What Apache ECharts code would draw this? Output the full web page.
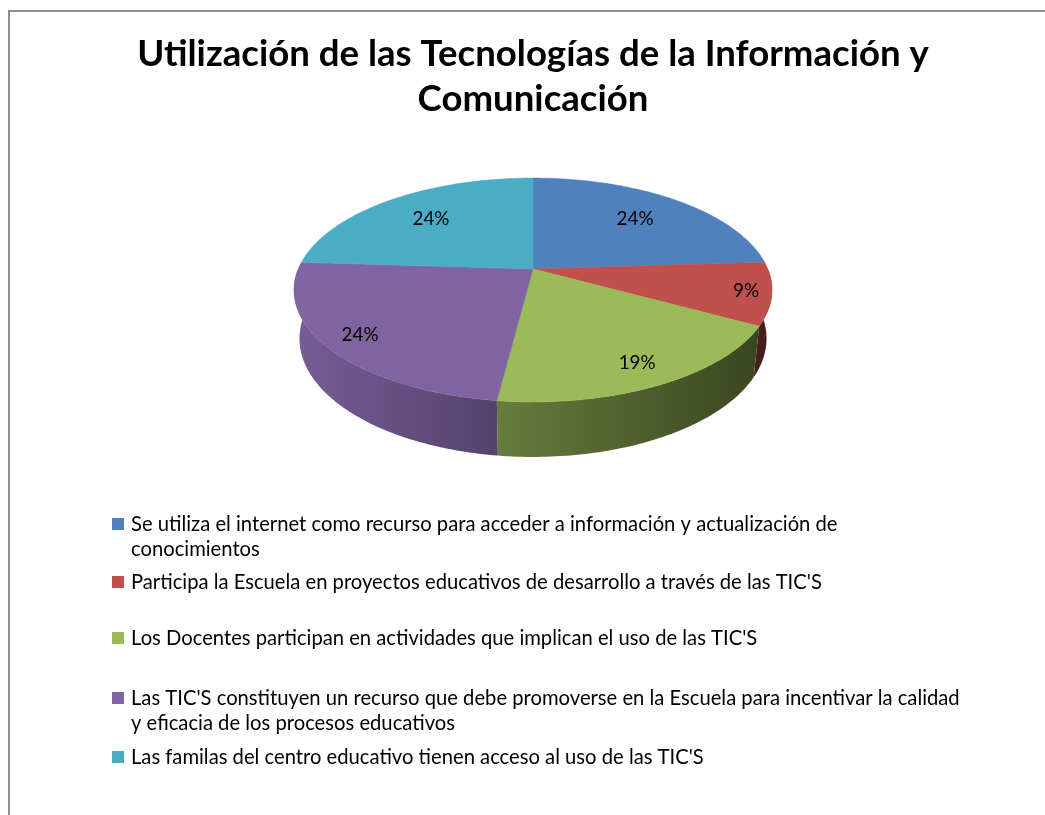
<!DOCTYPE html>
<html>
<head>
<meta charset="utf-8">
<script src="https://cdn.jsdelivr.net/npm/echarts@6/dist/echarts.min.js"></script>
<style>
html,body{margin:0;padding:0;background:#fff;}
#chart{width:1045px;height:815px;}
</style>
</head>
<body>
<div id="chart"></div>
<script>
// ---------------- data ----------------
const titleText = 'Utilización de las Tecnologías de la Información y\nComunicación';
const categories = [
  'Se utiliza el internet como recurso para acceder a información y actualización de conocimientos',
  "Participa la Escuela en proyectos educativos de desarrollo a través de las TIC'S",
  "Los Docentes participan en actividades que implican el uso de las TIC'S",
  "Las TIC'S constituyen un recurso que debe promoverse en la Escuela para incentivar la calidad y eficacia de los procesos educativos",
  "Las familas del centro educativo tienen acceso al uso de las TIC'S"
];
const legendLines = [
  ['Se utiliza el internet como recurso para acceder a información y actualización de', 'conocimientos'],
  ["Participa la Escuela en proyectos educativos de desarrollo a través de las TIC'S"],
  ["Los Docentes participan en actividades que implican el uso de las TIC'S"],
  ["Las TIC'S constituyen un recurso que debe promoverse en la Escuela para incentivar la calidad", 'y eficacia de los procesos educativos'],
  ["Las familas del centro educativo tienen acceso al uso de las TIC'S"]
];
const values = [24, 9, 19, 24, 24];
const colors = ['#4f81bd', '#c0504d', '#9bbb59', '#8064a2', '#4bacc6'];

// ---------------- layout / style constants ----------------
const FONT = 'Lato';
const CX = 533, CY = 269, K = 234.8;          // pie centre & radius on screen
const SA = 0.46, CA = 0.888, DIST = 4.74;      // view tilt & perspective
const THICK = 0.235;                           // pie thickness (relative to radius)
const labelRadius = [0.695, 0.896, 0.84, 0.858, 0.695];
const legendCenters = [524, 582, 638, 698, 757];

function fitSize(text, weight, target) {
  const ctx = document.createElement('canvas').getContext('2d');
  ctx.font = weight + ' 100px ' + FONT;
  return 100 * target / ctx.measureText(text).width;
}
const titleSize = fitSize('Utilización de las Tecnologías de la Información y', 'bold', 792);
const legendSize = fitSize(legendLines[0][0], 'normal', 707);
const labelSize = fitSize('24%', 'normal', 37);

function proj(X, Y, Z) {
  const depth = Y * SA - Z * CA;
  const v = Y * CA + Z * SA;
  const sc = DIST / (DIST - depth);
  return [CX + K * X * sc, CY - K * v * sc];
}
function shade(hex, f) {
  const n = parseInt(hex.slice(1), 16);
  const r = Math.round(((n >> 16) & 255) * f), g = Math.round(((n >> 8) & 255) * f), b = Math.round((n & 255) * f);
  return 'rgb(' + r + ',' + g + ',' + b + ')';
}
const total = values.reduce((a, b) => a + b, 0);
const cum = [0];
values.forEach((v, i) => cum.push(cum[i] + v));

function rimPoints(a0, a1, Y) {
  const n = Math.max(2, Math.ceil((a1 - a0) / (Math.PI / 180)) + 1);
  const pts = [];
  for (let k = 0; k < n; k++) {
    const a = a0 + (a1 - a0) * k / (n - 1);
    pts.push(proj(Math.sin(a), Y, Math.cos(a)));
  }
  return pts;
}

function makeRender(i) {
  return function (params, api) {
    const v = api.value(0);
    const a0 = cum[i] / total * Math.PI * 2;
    const a1 = a0 + v / total * Math.PI * 2;
    const children = [];
    // outer wall (front half only)
    const w0 = Math.max(a0, Math.PI / 2), w1 = Math.min(a1, Math.PI * 1.5);
    if (w1 > w0) {
      const top = rimPoints(w0, w1, 0);
      const bot = rimPoints(w0, w1, -THICK).reverse();
      const left = proj(-1.02, 0, 0)[0], right = proj(1.02, 0, 0)[0];
      children.push({
        type: 'polygon',
        z2: 1,
        shape: { points: top.concat(bot) },
        style: {
          fill: new echarts.graphic.LinearGradient(left, 0, right, 0, [
            { offset: 0, color: shade(colors[i], 0.93) },
            { offset: 0.4, color: shade(colors[i], 0.68) },
            { offset: 1, color: shade(colors[i], 0.36) }
          ], true),
          stroke: null
        }
      });
    }
    // top face
    const pts = [proj(0, 0, 0)].concat(rimPoints(a0, a1, 0));
    children.push({
      type: 'polygon',
      z2: 5,
      shape: { points: pts },
      style: { fill: colors[i], stroke: colors[i], lineWidth: 0.5 }
    });
    // data label
    const am = (a0 + a1) / 2, r = labelRadius[i];
    const p = proj(r * Math.sin(am), 0, r * Math.cos(am));
    children.push({
      type: 'text',
      z2: 10,
      x: p[0], y: p[1],
      style: {
        text: Math.round(v / total * 100) + '%',
        fill: '#000',
        font: 'normal ' + labelSize.toFixed(2) + 'px ' + FONT,
        align: 'center',
        verticalAlign: 'middle'
      }
    });
    return { type: 'group', children: children };
  };
}

const series = categories.map((name, i) => ({
  type: 'custom',
  name: name,
  coordinateSystem: 'none',
  itemStyle: { color: colors[i] },
  data: [[values[i]]],
  renderItem: makeRender(i),
  silent: true
}));

const legends = categories.map((name, i) => {
  const lines = legendLines[i];
  const twoLine = lines.length > 1;
  return {
    data: [{ name: name, itemStyle: { color: colors[i] } }],
    left: 112,
    top: legendCenters[i] - (twoLine ? 37.5 : 12.5),
    padding: 0,
    icon: 'rect',
    itemWidth: 12,
    itemHeight: 12,
    selectedMode: false,
    formatter: function () { return twoLine ? ' \n' + lines.join('\n') : lines[0]; },
    textStyle: { fontFamily: FONT, fontSize: legendSize, lineHeight: 25, color: '#000', padding: [0, 0, 0, 2] }
  };
});

const chart = echarts.init(document.getElementById('chart'), null, { renderer: 'canvas' });
chart.setOption({
  backgroundColor: '#fff',
  animation: false,
  title: {
    text: titleText,
    left: 533,
    textAlign: 'center',
    top: 32,
    padding: 0,
    textStyle: { fontFamily: FONT, fontWeight: 'bold', fontSize: titleSize, lineHeight: 45, color: '#000' }
  },
  legend: legends,
  graphic: [{
    type: 'rect',
    silent: true,
    shape: { x: 9, y: 11, width: 1200, height: 1000 },
    style: { fill: null, stroke: '#8e8e8e', lineWidth: 2 }
  }],
  series: series
});
</script>
</body>
</html>
